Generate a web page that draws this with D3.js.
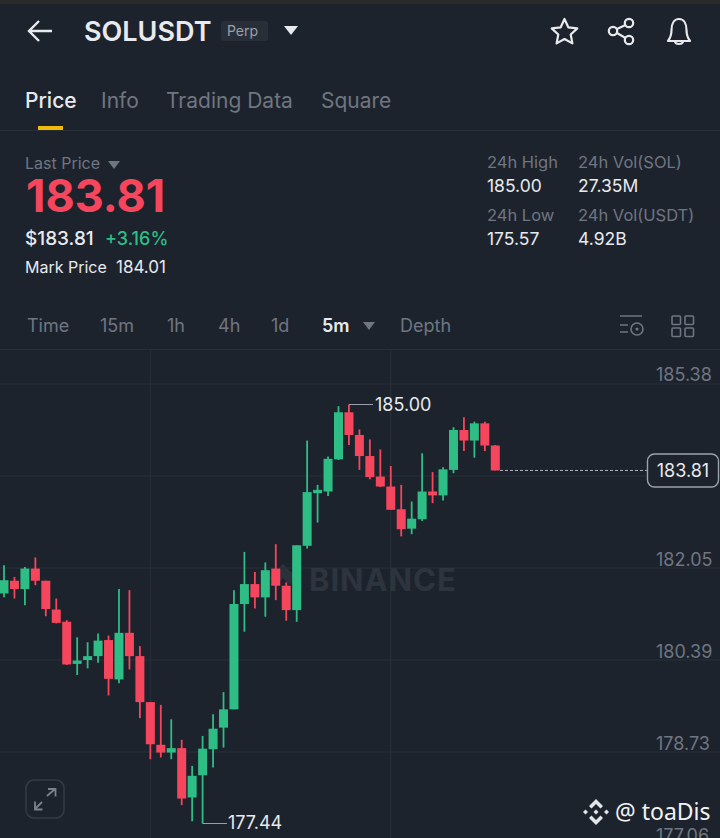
<!DOCTYPE html>
<html>
<head>
<meta charset="utf-8">
<script src="https://cdn.jsdelivr.net/npm/d3@7"></script>
<style>
html, body { margin: 0; padding: 0; background: #1d232d; overflow: hidden; }
svg { display: block; }
text { font-family: Inter, "Noto Sans", sans-serif; }
</style>
</head>
<body>
<div id="viz"></div>
<script>
// candles, left to right
var opens  = [181.59,181.82,181.67,182.04,181.82,181.30,181.08,180.32,180.39,180.46,180.75,180.04,180.88,180.46,179.63,178.86,178.72,178.80,177.91,178.31,178.78,179.17,179.50,181.40,181.76,181.52,182.04,181.73,181.29,182.45,183.40,183.43,184.01,184.86,184.45,184.07,183.70,183.52,183.11,182.76,182.93,183.43,183.36,183.82,184.54,184.35,184.66,184.26];
var closes = [181.83,181.67,182.04,181.82,181.31,181.06,180.31,180.38,180.46,180.74,180.05,180.88,180.46,179.63,178.87,178.72,178.80,177.89,178.30,178.79,179.15,179.50,181.40,181.76,181.52,182.01,181.73,181.29,182.46,183.42,183.46,184.02,184.86,184.45,184.07,183.69,183.52,183.10,182.75,182.94,183.43,183.36,183.83,184.54,184.35,184.66,184.26,183.81];
var highs  = [182.10,181.89,182.07,182.24,181.82,181.50,181.11,180.80,180.71,180.87,180.83,181.67,181.65,180.64,179.63,179.58,179.32,178.95,178.48,179.02,179.41,179.81,181.65,182.34,181.98,182.15,182.48,181.79,182.46,184.35,183.55,184.06,184.97,185.00,184.55,184.37,184.19,183.89,183.55,183.25,184.12,183.78,183.87,184.59,184.77,184.69,184.69,184.27];
var lows   = [181.52,181.50,181.38,181.74,181.18,181.05,180.30,180.12,180.24,180.34,179.75,179.97,180.22,179.34,178.60,178.63,178.60,177.77,177.48,177.44,178.45,178.81,179.50,180.90,181.32,181.17,181.47,181.10,181.08,182.40,182.87,183.35,184.00,184.27,183.82,183.65,183.51,183.10,182.62,182.66,182.90,183.22,183.27,183.76,184.16,184.04,184.16,183.81];

var priceTicks = [185.38, 182.05, 180.39, 178.73, 177.06];
var gridPrices = [185.37, 183.71, 182.05, 180.39, 178.73];
var gridTimes = [14.0, 37.0];
var lastPrice = 183.81;
var maxPrice = 185.00;
var minPrice = 177.44;

var tabs = ['Price', 'Info', 'Trading Data', 'Square'];
var tabX = [25, 101, 166, 321];
var intervals = ['Time', '15m', '1h', '4h', '1d', '5m', 'Depth'];
var intervalX = [27, 100, 167, 218, 271, 322, 400];

var bg = '#1d232d', up = '#2ebd85', down = '#f6465d', grey = '#6f7681', light = '#e8eaed';

var svg = d3.select('#viz').append('svg').attr('width', 720).attr('height', 838);

svg.append('rect').attr('width', 720).attr('height', 838).attr('fill', bg);
svg.append('rect').attr('width', 720).attr('height', 4).attr('fill', '#2a2a2a');

function label(txt, x, y, size, fill, weight, anchor) {
    return svg.append('text').attr('x', x).attr('y', y)
        .attr('font-size', size).attr('fill', fill)
        .attr('font-weight', weight || 400)
        .attr('text-anchor', anchor || 'start')
        .text(txt);
}

// ---- header ----
svg.append('path').attr('d', 'M52 31H29M39 21L29 31L39 41')
    .attr('fill', 'none').attr('stroke', light).attr('stroke-width', 2.4);
label('SOLUSDT', 84, 41, 27, light, 600);
svg.append('rect').attr('x', 221).attr('y', 21).attr('width', 47).attr('height', 20).attr('rx', 3).attr('fill', '#292f39');
label('Perp', 227, 36, 14, '#9aa0a9');
svg.append('path').attr('d', 'M284 26H298L291 35Z').attr('fill', light);

// star, share, bell
svg.append('path')
    .attr('d', 'M564.5 19L568.3 27.3L577.3 28.4L570.7 34.5L572.4 43.4L564.5 39L556.6 43.4L558.3 34.5L551.7 28.4L560.7 27.3Z')
    .attr('fill', 'none').attr('stroke', light).attr('stroke-width', 2.2).attr('stroke-linejoin', 'round');
svg.append('g').attr('fill', 'none').attr('stroke', light).attr('stroke-width', 2.2)
    .call(function(g) {
        g.append('circle').attr('cx', 613).attr('cy', 31).attr('r', 4.2);
        g.append('circle').attr('cx', 629).attr('cy', 23).attr('r', 4.2);
        g.append('circle').attr('cx', 629).attr('cy', 40).attr('r', 4.2);
        g.append('path').attr('d', 'M617 29L625.5 25M617 33L625.5 38');
    });
svg.append('path')
    .attr('d', 'M668 41C671 37 671.5 34 671.5 30C671.5 24 674 19 679 19C684 19 686.5 24 686.5 30C686.5 34 687 37 690 41ZM675 41C675 45 683 45 683 41')
    .attr('fill', 'none').attr('stroke', light).attr('stroke-width', 2.2).attr('stroke-linejoin', 'round');

// ---- tabs ----
tabs.forEach(function(t, i) {
    label(t, tabX[i], 108, 21, i == 0 ? light : grey, i == 0 ? 500 : 400);
});
svg.append('rect').attr('x', 38).attr('y', 126).attr('width', 25).attr('height', 4).attr('fill', '#f0b90b');
svg.append('line').attr('x1', 0).attr('x2', 720).attr('y1', 130.5).attr('y2', 130.5).attr('stroke', '#282e38');

// ---- price block ----
label('Last Price', 25, 169, 16, grey);
svg.append('path').attr('d', 'M108 161H120L114 169Z').attr('fill', grey);
label('183.81', 26, 212, 45, down, 700);
label('$183.81', 25, 245, 19, light, 500);
label('+3.16%', 105, 245, 18, up, 500);
label('Mark Price', 25, 273, 16, light);
label('184.01', 116, 273, 17, light);
label('24h High', 487, 168, 16.5, grey);
label('185.00', 487, 192, 17.5, light);
label('24h Vol(SOL)', 578, 168, 16.5, grey);
label('27.35M', 578, 192, 17.5, light);
label('24h Low', 487, 221, 16.5, grey);
label('175.57', 487, 245, 17.5, light);
label('24h Vol(USDT)', 578, 221, 16.5, grey);
label('4.92B', 578, 245, 17.5, light);

// ---- interval row ----
intervals.forEach(function(t, i) {
    label(t, intervalX[i], 332, 18, t == '5m' ? light : grey, t == '5m' ? 600 : 400);
});
svg.append('path').attr('d', 'M363 322H375L369 330Z').attr('fill', grey);
svg.append('path').attr('d', 'M620 316H642M620 325H628M620 332H628')
    .attr('fill', 'none').attr('stroke', grey).attr('stroke-width', 1.6);
svg.append('circle').attr('cx', 637).attr('cy', 329).attr('r', 6)
    .attr('fill', 'none').attr('stroke', grey).attr('stroke-width', 1.6);
svg.append('circle').attr('cx', 637).attr('cy', 329).attr('r', 1.6).attr('fill', grey);
[[672, 316], [685, 316], [672, 328], [685, 328]].forEach(function(p) {
    svg.append('rect').attr('x', p[0]).attr('y', p[1]).attr('width', 8.5).attr('height', 8.5).attr('rx', 1)
        .attr('fill', 'none').attr('stroke', grey).attr('stroke-width', 1.6);
});
svg.append('line').attr('x1', 0).attr('x2', 720).attr('y1', 349.5).attr('y2', 349.5).attr('stroke', '#282e38');

// ---- chart ----
var x = d3.scaleLinear().domain([0, opens.length - 1]).range([4, 495.3]);
var y = d3.scaleLinear().domain([182.05, 183.71]).range([568, 476]);
var bodyW = 9;

var chart = svg.append('g');

chart.selectAll('.hgrid').data(gridPrices).enter().append('line')
    .attr('class', 'hgrid')
    .attr('x1', 0).attr('x2', 720)
    .attr('y1', function(d) { return y(d); }).attr('y2', function(d) { return y(d); })
    .attr('stroke', '#2a303a');
chart.selectAll('.vgrid').data(gridTimes).enter().append('line')
    .attr('class', 'vgrid')
    .attr('x1', function(d) { return x(d); }).attr('x2', function(d) { return x(d); })
    .attr('y1', 350).attr('y2', 838)
    .attr('stroke', '#2a303a');

// watermark sits under the candles
var logo = chart.append('g').attr('fill', '#2b313b').attr('transform', 'translate(283,578)');
logo.append('path').attr('d', 'M0 -14L14 0L7 7L0 0L-7 7L-14 0Z');
label('BINANCE', 309, 591, 31, '#2e343e', 700).attr('letter-spacing', 0.9);

var yAxis = d3.axisRight(y).tickValues(priceTicks).tickSize(0).tickPadding(0)
    .tickFormat(d3.format('.2f'));
var axisG = svg.append('g').attr('transform', 'translate(656,0)').call(yAxis);
axisG.select('.domain').remove();
axisG.selectAll('text')
    .attr('y', -9).attr('dy', '0.35em')
    .attr('font-size', 18).attr('fill', grey)
    .style('font-family', 'Inter, "Noto Sans", sans-serif');

var candle = chart.selectAll('.candle').data(opens).enter().append('g').attr('class', 'candle');
function col(i) { return closes[i] >= opens[i] ? up : down; }
candle.append('line')
    .attr('x1', function(d, i) { return x(i); }).attr('x2', function(d, i) { return x(i); })
    .attr('y1', function(d, i) { return y(highs[i]); }).attr('y2', function(d, i) { return y(lows[i]); })
    .attr('stroke-width', 1.8)
    .attr('stroke', function(d, i) { return col(i); });
candle.append('rect')
    .attr('x', function(d, i) { return x(i) - bodyW / 2; })
    .attr('width', bodyW)
    .attr('y', function(d, i) { return y(Math.max(opens[i], closes[i])); })
    .attr('height', function(d, i) { return Math.max(2, Math.abs(y(opens[i]) - y(closes[i]))); })
    .attr('fill', function(d, i) { return col(i); });

// high and low markers
var iHigh = highs.indexOf(maxPrice), iLow = lows.indexOf(minPrice);
svg.append('line').attr('x1', x(iHigh)).attr('x2', 373).attr('y1', y(maxPrice)).attr('y2', y(maxPrice)).attr('stroke', '#9aa0a9');
label('185.00', 375, y(maxPrice) + 6, 18, light);
svg.append('line').attr('x1', x(iLow)).attr('x2', 227).attr('y1', y(minPrice)).attr('y2', y(minPrice)).attr('stroke', '#9aa0a9');
label('177.44', 228, y(minPrice) + 6, 18, light);

// last price line and tag
svg.append('line').attr('x1', 500).attr('x2', 647).attr('y1', y(lastPrice)).attr('y2', y(lastPrice))
    .attr('stroke', '#aeb3ba').attr('stroke-dasharray', '3,2');
svg.append('rect').attr('x', 647.5).attr('y', y(lastPrice) - 16.5).attr('width', 71).attr('height', 33).attr('rx', 7)
    .attr('fill', bg).attr('stroke', '#9da2a9').attr('stroke-width', 1.4);
label('183.81', 683, y(lastPrice) + 6.5, 18, light, 400, 'middle');

// expand button
svg.append('rect').attr('x', 26).attr('y', 780).attr('width', 38).attr('height', 38).attr('rx', 8)
    .attr('fill', 'none').attr('stroke', '#343a45').attr('stroke-width', 1.6);
svg.append('path').attr('d', 'M35 809L42 802M47 796L55 789M48 789H55.5V796.5M35 801.5V809.5H42.5')
    .attr('fill', 'none').attr('stroke', '#7b818b').attr('stroke-width', 1.8);

// reposted-by mark
var mark = svg.append('g').attr('fill', '#e4e5e7').attr('transform', 'translate(596,812)');
mark.append('path').attr('d', 'M0 -13L7 -6L4.5 -3.5L0 -8L-4.5 -3.5L-7 -6Z');
mark.append('path').attr('d', 'M0 13L7 6L4.5 3.5L0 8L-4.5 3.5L-7 6Z');
mark.append('path').attr('d', 'M0 -2.5L2.5 0L0 2.5L-2.5 0Z');
mark.append('path').attr('d', 'M-10.5 -2.5L-8 0L-10.5 2.5L-13 0Z');
mark.append('path').attr('d', 'M10.5 -2.5L13 0L10.5 2.5L8 0Z');
label('@ toaDis', 615, 820, 23, '#f2f3f4', 400).style('font-family', '"Noto Sans", sans-serif');
</script>
</body>
</html>
